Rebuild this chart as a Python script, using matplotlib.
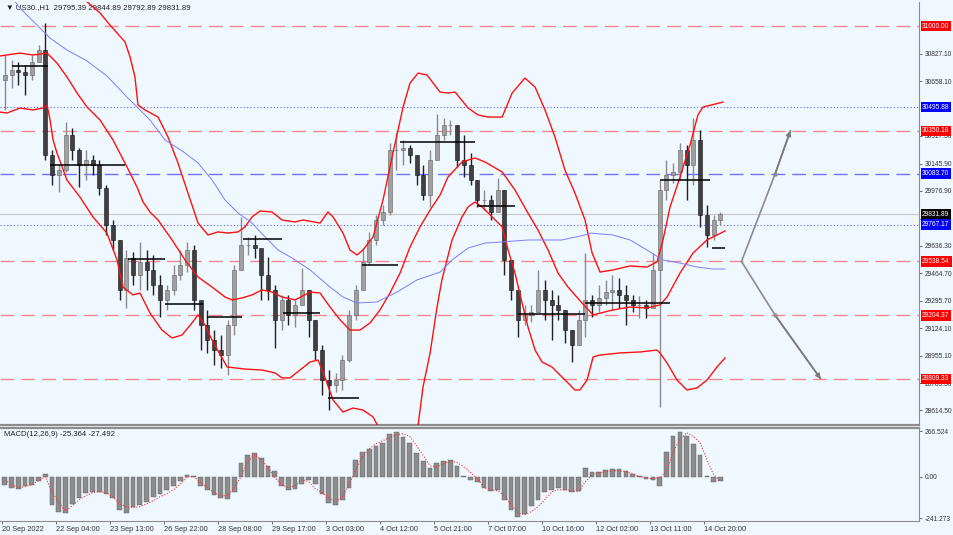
import numpy as np
import matplotlib.pyplot as plt
from matplotlib.transforms import blended_transform_factory

plt.rcParams['font.family'] = ['Liberation Sans', 'DejaVu Sans']

# price bars, grouped by 4 hourly bars (high, low, close)
hi = [30820, 30789, 30777, 30758, 30820, 30882, 31019, 30231, 30137, 30404,
      30367, 30243, 30231, 30199, 30168, 30013, 29796, 29672, 29610, 29598,
      29660, 29610, 29579, 29455, 29393, 29517, 29610, 29660, 29641, 29269,
      29238, 29113, 29082, 29176, 29517, 29815, 29691, 29703, 29610, 29566,
      29393, 29331, 29331, 29300, 29498, 29362, 29176, 29020, 28865, 28846,
      28958, 29238, 29393, 29622, 29722, 29827, 29889, 30274, 30336, 30293,
      30262, 30199, 30137, 30231, 30454, 30429, 30417, 30386, 30324, 30212,
      30044, 29982, 29951, 30057, 29982, 29548, 29362, 29269, 29269, 29486,
      29424, 29362, 29331, 29238, 29113, 29238, 29591, 29331, 29393, 29424,
      29455, 29436, 29393, 29331, 29325, 29300, 29591, 30044, 30168, 30150,
      30274, 30262, 30429, 30355, 29889, 29827, 29844.89]
lo = [30479, 30615, 30634, 30572, 30665, 30777, 30168, 30013, 29970, 30094,
      30168, 30001, 30044, 30075, 29951, 29703, 29610, 29300, 29250, 29393,
      29362, 29362, 29331, 29194, 29238, 29331, 29424, 29473, 29238, 28989,
      28971, 28896, 28878, 28834, 29082, 29486, 29579, 29560, 29300, 29300,
      29002, 29113, 29144, 29132, 29300, 29070, 28927, 28710, 28617, 28729,
      28741, 28915, 29176, 29455, 29517, 29641, 29765, 29827, 30106, 30137,
      30150, 30013, 29920, 29877, 30231, 30293, 30324, 30125, 30063, 30013,
      29877, 29858, 29796, 29858, 29455, 29300, 29070, 29144, 29163, 29269,
      29176, 29051, 29176, 29033, 28915, 29020, 29070, 29194, 29225, 29269,
      29238, 29250, 29144, 29225, 29188, 29188, 29269, 28636, 29920, 30026,
      30044, 29920, 30013, 29753, 29628, 29672, 29765]
cl = [30696, 30727, 30715, 30696, 30777, 30851, 30199, 30075, 30106, 30324,
      30231, 30137, 30168, 30137, 29995, 29765, 29672, 29362, 29560, 29455,
      29536, 29486, 29393, 29300, 29362, 29455, 29517, 29610, 29300, 29144,
      29051, 28989, 28958, 29144, 29486, 29641, 29641, 29622, 29455, 29362,
      29176, 29300, 29207, 29269, 29362, 29176, 28989, 28803, 28772, 28803,
      28927, 29207, 29362, 29536, 29672, 29796, 29846, 30231, 30231, 30243,
      30199, 30075, 29951, 30168, 30324, 30386, 30386, 30168, 30137, 30044,
      29920, 29920, 29846, 29982, 29548, 29362, 29176, 29207, 29225, 29362,
      29300, 29269, 29238, 29113, 29020, 29176, 29300, 29269, 29312, 29349,
      29362, 29331, 29300, 29269, 29269, 29250, 29486, 29982, 30075, 30094,
      30231, 30137, 30293, 29827, 29703, 29796, 29831.89]
first_open = 30665

# red bands (hour index, price)
up_t = [40.1, 49.0, 57.9, 63.8, 68.0, 72.7, 75.7, 78.6, 80.4, 84.6, 92.3, 98.2, 104.1, 110.0,
        116.0, 121.9, 127.8, 133.7, 139.7, 143.8, 148.0, 152.7, 159.8, 165.8, 173.5, 178.2,
        188.3, 193.0, 196.0, 201.9, 206.0, 210.2, 213.7, 219.7, 225.6, 231.5, 237.5, 241.6,
        246.4, 251.7, 255.3, 259.4, 264.1, 268.3, 276.0, 281.9, 287.9, 296.2, 302.1, 309.7,
        315.7, 321.6, 327.5, 333.4, 339.3, 345.3, 349.5, 354.2, 361.9, 372.0, 382.0, 388.0,
        391.5, 395.7, 401.6, 407.5, 412.2, 415.2, 427.1]
up_p = [31348, 31161, 31081, 31006, 30957, 30901, 30808, 30684, 30510, 30479, 30435, 30311,
        30150, 29964, 29777, 29703, 29722, 29715, 29722, 29753, 29815, 29852, 29846, 29796,
        29784, 29796, 29777, 29846, 29815, 29715, 29610, 29579, 29610, 29691, 29920, 30212,
        30497, 30646, 30708, 30696, 30646, 30590, 30584, 30590, 30491, 30448, 30435, 30435,
        30584, 30677, 30621, 30479, 30311, 30106, 29964, 29796, 29591, 29473, 29486, 29511,
        29504, 29536, 29672, 29877, 30063, 30262, 30448, 30497, 30528]
mid_t = [-1.4, 10.5, 18.2, 26.5, 32.4, 38.3, 44.3, 50.2, 57.9, 65.6, 73.9, 79.8, 83.4, 87.5,
         92.3, 100.6, 108.3, 116.0, 124.3, 132.0, 136.1, 142.0, 148.0, 153.9, 159.8, 165.8,
         173.5, 182.4, 188.3, 194.2, 200.2, 206.0, 211.9, 217.9, 223.8, 229.7, 235.7, 241.6,
         247.5, 253.5, 259.4, 264.1, 272.4, 280.1, 286.1, 296.2, 303.8, 311.5, 317.4, 323.4,
         329.3, 335.2, 343.5, 350.1, 361.9, 372.0, 382.0, 389.7, 393.9, 401.6, 409.3, 417.6,
         421.2, 428.3]
mid_p = [30814, 30832, 30820, 30832, 30770, 30684, 30584, 30497, 30417, 30293, 30125, 30001,
         29908, 29846, 29796, 29672, 29548, 29442, 29380, 29318, 29300, 29312, 29331, 29362,
         29349, 29318, 29300, 29349, 29343, 29256, 29176, 29113, 29113, 29157, 29238, 29343,
         29467, 29628, 29753, 29858, 29951, 30063, 30156, 30181, 30156, 30094, 29982, 29839,
         29734, 29610, 29467, 29380, 29281, 29207, 29238, 29256, 29250, 29269, 29318, 29467,
         29591, 29672, 29691, 29728]
low_t = [-1.4, 2.8, 10.5, 18.2, 24.1, 26.5, 28.3, 30.1, 32.4, 38.3, 46.0, 53.7, 62.0, 68.0,
         71.5, 77.4, 81.6, 87.5, 94.6, 100.6, 106.5, 112.4, 116.0, 120.1, 124.3, 133.2, 143.8,
         153.9, 161.6, 165.8, 170.5, 176.4, 182.4, 187.1, 190.2, 196.0, 201.9, 207.8, 213.7,
         219.7, 223.8, 229.7, 238.6, 246.4, 249.3, 253.5, 257.6, 260.5, 266.5, 272.4, 276.0,
         280.1, 284.3, 290.3, 296.2, 299.7, 303.8, 308.0, 311.5, 315.7, 319.8, 325.7, 331.6,
         335.2, 339.3, 342.3, 346.5, 350.1, 354.2, 366.0, 377.9, 388.0, 389.7, 393.9, 399.8,
         405.7, 411.7, 417.6, 423.5, 428.3]
low_p = [30466, 30460, 30491, 30479, 30491, 30510, 30417, 30293, 30212, 30044, 29939, 29815,
         29715, 29548, 29380, 29331, 29343, 29219, 29113, 29064, 29082, 29157, 29207, 29144,
         29051, 28884, 28871, 28865, 28847, 28816, 28816, 28865, 28915, 28927, 28847, 28679,
         28604, 28629, 28617, 28574, 28493, 28245, 28245, 28524, 28760, 28970, 29256, 29424,
         29672, 29815, 29877, 29908, 29877, 29815, 29753, 29610, 29467, 29281, 29132, 28989,
         28915, 28884, 28822, 28785, 28741, 28741, 28803, 28946, 28958, 28971, 28977, 28989,
         28971, 28909, 28803, 28741, 28754, 28803, 28884, 28940]

# slow blue moving average
ma_t = [4.6, 10.5, 17.6, 28.3, 38.3, 50.2, 62.0, 73.9, 81.6, 87.5, 96.4, 108.3, 116.0, 124.3,
        132.0, 139.7, 148.0, 155.7, 163.4, 171.7, 182.4, 194.2, 201.9, 210.2, 222.0, 233.9,
        245.7, 259.4, 266.5, 276.0, 286.1, 296.2, 311.5, 331.6, 345.3, 348.3, 361.9, 372.0,
        382.0, 391.5, 401.6, 411.7, 421.2, 428.3]
ma_p = [31192, 31112, 31037, 30925, 30851, 30783, 30690, 30559, 30479, 30417, 30293, 30212,
        30150, 30044, 29920, 29840, 29777, 29691, 29610, 29560, 29486, 29380, 29318, 29281,
        29287, 29349, 29424, 29473, 29548, 29622, 29653, 29660, 29672, 29672, 29703, 29715,
        29703, 29672, 29610, 29548, 29529, 29504, 29492, 29492]

# black horizontal segments
seg_start = [5.7, 28.3, 74.5, 96.4, 121.3, 142.6, 166.3, 193.0, 213.1, 235.7, 281.9, 305.6, 345.3, 389.7, 420.5]
seg_end = [27.1, 72.7, 96.4, 118.9, 142.0, 165.8, 188.3, 211.4, 234.5, 280.1, 303.8, 345.3, 395.7, 419.4, 428.3]
seg_price = [30752, 30137, 29554, 29275, 29194, 29678, 29219, 28691, 29517, 30280, 29884, 29214, 29281, 30044, 29622]

# horizontal levels
red_levels = [31000.00, 30350.18, 29538.54, 29204.37, 28809.33]
blue_dot_levels = [30495.88, 29767.17]
blue_dash_levels = [30083.70]
last_price = 29831.89
price_ticks = [30827.10, 30658.10, 30317.50, 30145.90, 29976.90, 29805.30,
               29636.30, 29464.70, 29295.70, 29124.10, 28955.10, 28783.50, 28614.50]

# forecast arrows
arrow_t = [438, 458, 467]
arrow_up = [29538.54, 30083.70, 30350.18]
arrow_t2 = [438, 458, 485]
arrow_down = [29538.54, 29204.37, 28809.33]

# MACD(12,26,9) per 4-bar group
hist = [-47, -64, -70, -53, -47, -23, 18, -163, -204, -210, -158, -123, -93, -88, -88, -99,
        -123, -193, -210, -175, -163, -146, -117, -99, -76, -53, -23, 12, 6, -53, -76, -105,
        -123, -128, -88, 82, 128, 140, 111, 64, 35, -53, -76, -70, -41, -18, -41, -99, -152,
        -163, -134, -64, 99, 146, 164, 181, 199, 251, 263, 234, 199, 140, 93, 53, 82, 93, 99,
        64, 6, -18, -29, -64, -82, -76, -134, -193, -234, -216, -169, -134, -88, -76, -64, -76,
        -88, -82, 53, 29, 29, 41, 47, 47, 35, 18, 6, -12, -18, -53, 146, 240, 263, 240, 193,
        128, 6, -30, -25.364]
signal = [-18, -47, -64, -58, -47, -23, 0, -88, -152, -199, -169, -134, -111, -93, -88, -93,
          -117, -158, -175, -181, -175, -158, -140, -117, -99, -76, -41, 0, 0, -35, -64, -93,
          -111, -111, -64, 0, 88, 128, 99, 53, -6, -47, -64, -53, -18, -29, -70, -93, -123,
          -146, -117, -47, 41, 117, 164, 193, 210, 228, 245, 251, 234, 181, 123, 64, 58, 76, 93,
          82, 58, 23, -12, -64, -76, -82, -111, -163, -210, -222, -204, -175, -134, -88, -76,
          -76, -82, -88, -29, 12, 23, 29, 35, 35, 29, 18, 0, -6, -12, -6, 29, 146, 216, 257,
          234, 199, 99, 12, -27.492]

date_labels = ["20 Sep 2022", "22 Sep 04:00", "23 Sep 13:00", "26 Sep 22:00", "28 Sep 08:00",
               "29 Sep 17:00", "3 Oct 03:00", "4 Oct 12:00", "5 Oct 21:00", "7 Oct 07:00",
               "10 Oct 16:00", "12 Oct 02:00", "13 Oct 11:00", "14 Oct 20:00"]

bg = '#F0F8FF'
fs = 4.8
fig = plt.figure(figsize=(9.54, 5.35), dpi=100, facecolor=bg)
ax = fig.add_axes([0, 110 / 535, 919 / 954, 423 / 535], facecolor=bg)
ax2 = fig.add_axes([0, 14 / 535, 919 / 954, 93 / 535], facecolor=bg)

n = len(cl)
x = np.arange(n) * 4 + 1.5
op = np.array([first_open] + cl[:-1])
cl_a = np.array(cl)
up = cl_a >= op

# bars
ax.vlines(x[up], np.array(lo)[up], np.array(hi)[up], color='#8a8a8a', lw=1.0, zorder=3)
ax.vlines(x[~up], np.array(lo)[~up], np.array(hi)[~up], color='#202020', lw=1.0, zorder=3)
ax.bar(x[up], (cl_a - op)[up], bottom=op[up], width=2.4, color='#a0a0a0',
       edgecolor='#606060', lw=0.4, zorder=3)
ax.bar(x[~up], (cl_a - op)[~up], bottom=op[~up], width=2.4, color='#404040',
       edgecolor='#111111', lw=0.4, zorder=3)

# indicators
ax.plot(up_t, up_p, color='#ff1010', lw=1.0, zorder=4)
ax.plot(mid_t, mid_p, color='#ff1010', lw=1.0, zorder=4)
ax.plot(low_t, low_p, color='#ff1010', lw=1.0, zorder=4)
ax.plot(ma_t, ma_p, color='#7b7bff', lw=0.7, zorder=4)
ax.hlines(seg_price, seg_start, seg_end, color='#000000', lw=1.1, zorder=4)

# levels
for p in red_levels:
    ax.axhline(p, color='#f08a8a', lw=1.0, dashes=(10, 5), zorder=2)
for p in blue_dot_levels:
    ax.axhline(p, color='#6060ff', lw=0.8, dashes=(1, 2), zorder=2)
for p in blue_dash_levels:
    ax.axhline(p, color='#7070ff', lw=1.0, dashes=(10, 5), zorder=2)
ax.axhline(last_price, color='#c8c8c8', lw=0.8, zorder=2)

# arrows
for xs, ys in [(arrow_t, arrow_up), (arrow_t2, arrow_down)]:
    ax.plot(xs, ys, color='#8c8c8c', lw=1.2, zorder=4)
    ax.annotate('', xy=(xs[2], ys[2]), xytext=(xs[1], ys[1]),
                arrowprops=dict(arrowstyle='-|>', color='#7a7a7a', lw=1.2,
                                mutation_scale=7, shrinkA=0, shrinkB=0), zorder=5)
    ax.plot(xs[1], ys[1], marker='o', ms=2, color='#8c8c8c', zorder=5)

ax.set_xlim(-1.36, 543.2)
ax.set_ylim(28523.8, 31149)
ax.yaxis.tick_right()
ax.set_yticks(price_ticks)
ax.set_yticklabels(['%.2f' % v for v in price_ticks])
ax.tick_params(axis='y', direction='out', length=2.5, width=0.6, colors='#555555',
               labelsize=fs, labelcolor='#333333', pad=1.5)
ax.set_xticks([])
for s in ax.spines.values():
    s.set_color('#8c8c8c')
ax.spines['left'].set_visible(False)
ax.spines['top'].set_visible(False)
ax.spines['bottom'].set_linewidth(1.6)

tr = blended_transform_factory(ax.transAxes, ax.transData)
boxes = [(p, '#ff0000', 'white') for p in red_levels] + \
        [(p, '#0000ff', 'white') for p in blue_dot_levels + blue_dash_levels] + \
        [(last_price, '#000000', 'white')]
for p, fc, tc in boxes:
    ax.text(1.0035, p, '%.2f' % p, transform=tr, fontsize=fs, color=tc, va='center',
            ha='left', clip_on=False, zorder=10,
            bbox=dict(boxstyle='square,pad=0.25', fc=fc, ec='none'))

ax.text(0.006, 0.988, '\u25bc US30.,H1  29795.39 29844.89 29792.89 29831.89',
        transform=ax.transAxes, fontsize=5.6, color='#222222', va='center', ha='left')

# MACD panel
ax2.bar(x, hist, width=2.8, color='#8c8c8c', edgecolor='#5a5a5a', lw=0.3, zorder=3)
ax2.plot(x, signal, color='#ff3030', lw=0.8, dashes=(1, 1.5), zorder=4)
ax2.set_xlim(-1.36, 543.2)
ax2.set_ylim(-258.6, 284.3)
ax2.yaxis.tick_right()
ax2.set_yticks([266.524, 0, -241.273])
ax2.set_yticklabels(['266.524', '0.00', '-241.273'])
ax2.tick_params(axis='y', direction='out', length=2.5, width=0.6, colors='#555555',
                labelsize=fs, labelcolor='#333333', pad=1.5)
ax2.set_xticks(np.arange(len(date_labels)) * 32)
ax2.set_xticklabels(date_labels, ha='left')
ax2.tick_params(axis='x', direction='out', length=2.5, width=0.6, colors='#555555',
                labelsize=5.3, labelcolor='#333333', pad=1)
for s in ax2.spines.values():
    s.set_color('#8c8c8c')
ax2.spines['left'].set_visible(False)
ax2.spines['top'].set_linewidth(1.6)
ax2.text(0.004, 0.93, 'MACD(12,26,9) -25.364 -27.492', transform=ax2.transAxes,
         fontsize=5.6, color='#222222', va='center', ha='left')

fig.savefig('out.png', dpi=100, facecolor=bg)
